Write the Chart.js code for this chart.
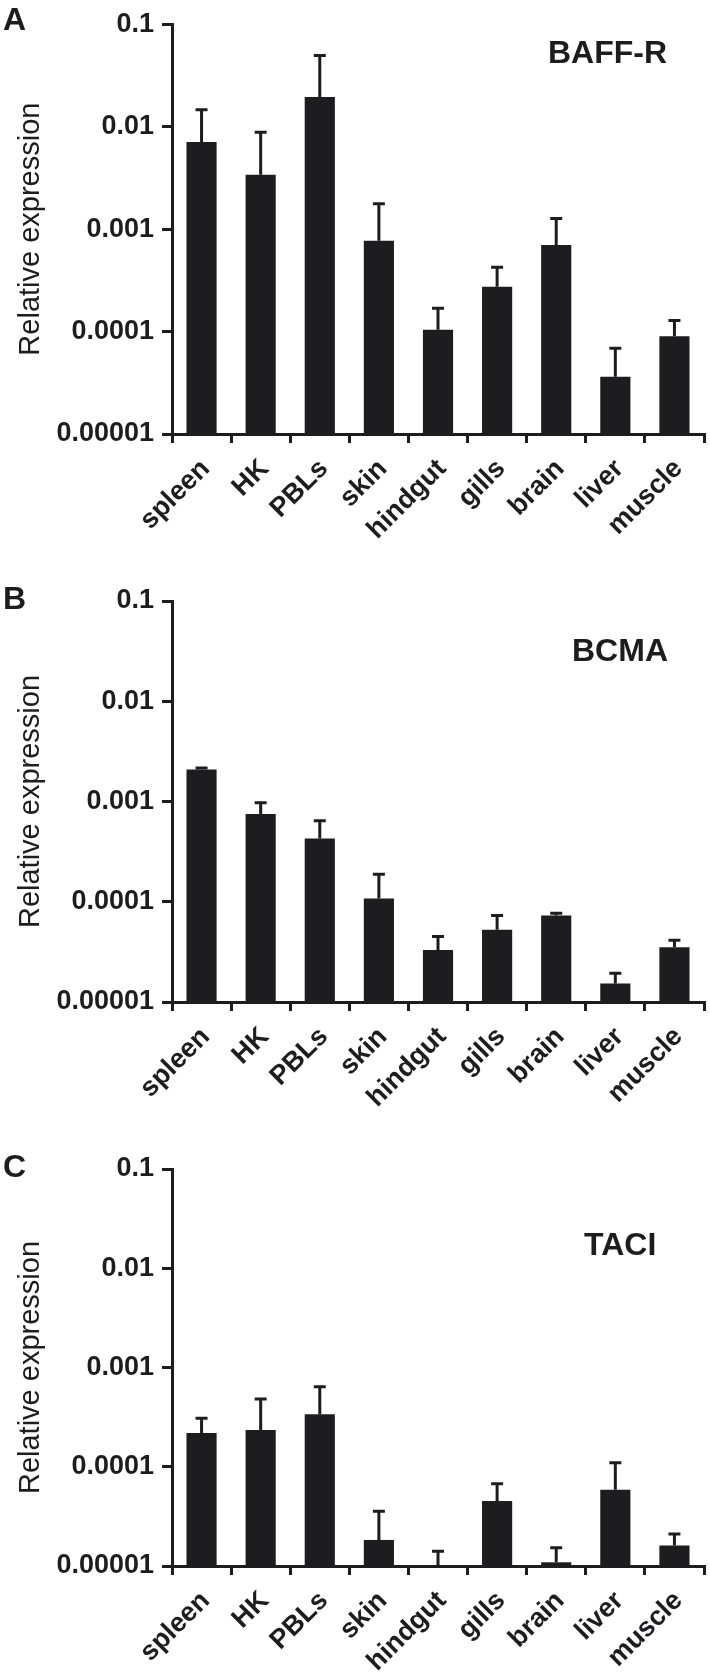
<!DOCTYPE html>
<html>
<head>
<meta charset="utf-8">
<script src="https://cdn.jsdelivr.net/npm/chart.js@4.4.1/dist/chart.umd.min.js"></script>
<style>
    body { margin: 0; background: #fff; width: 710px; height: 1678px; position: relative; overflow: hidden;
           font-family: "Liberation Sans", Arial, Helvetica, sans-serif; color: #1d1d1f; }
    .panel { position: absolute; left: 0; width: 710px; }
    .panel canvas { display: block; }
    .letter, .gene { position: absolute; font-weight: bold; font-size: 32px; line-height: 32px; white-space: nowrap; }
</style>
</head>
<body>

<div class="panel" id="panel-a" style="top:0px;"><canvas id="chart-a" width="710" height="560"></canvas></div>
<div class="panel" id="panel-b" style="top:565px;"><canvas id="chart-b" width="710" height="565"></canvas></div>
<div class="panel" id="panel-c" style="top:1135px;"><canvas id="chart-c" width="710" height="543"></canvas></div>

<div class="letter" style="left:3px; top:3px;">A</div>
<div class="letter" style="left:3px; top:582px;">B</div>
<div class="letter" style="left:3px; top:1150px;">C</div>

<div class="gene" style="left:548px; top:36px;">BAFF-R</div>
<div class="gene" style="left:572px; top:634px;">BCMA</div>
<div class="gene" style="left:584px; top:1228px;">TACI</div>

<script>
// Tissues and y ticks
const tissues = ['spleen', 'HK', 'PBLs', 'skin', 'hindgut', 'gills', 'brain', 'liver', 'muscle'];
const yTickValues = [0.00001, 0.0001, 0.001, 0.01, 0.1];
const yTickLabels = ['0.00001', '0.0001', '0.001', '0.01', '0.1'];

// BAFF-R: mean and upper error (SD)
const baffrMean = [0.0071, 0.0034, 0.0195, 0.00077, 0.000104, 0.000274, 0.0007, 0.0000362, 0.0000902];
const baffrErr  = [0.0075, 0.0054, 0.030, 0.0010, 0.000065, 0.00015, 0.00057, 0.0000324, 0.0000378];

// BCMA
const bcmaMean = [0.00208, 0.00075, 0.000428, 0.000108, 0.000033, 0.0000527, 0.000073, 0.0000153, 0.0000351];
const bcmaErr  = [0.00008, 0.00022, 0.000216, 0.00008, 0.0000119, 0.0000203, 0.0000039, 0.0000041, 0.0000061];

// TACI
const taciMean = [0.000219, 0.000235, 0.000339, 0.0000183, 0.00001, 0.0000453, 0.0000109, 0.0000585, 0.0000161];
const taciErr  = [0.000089, 0.000246, 0.000302, 0.0000174, 0.0000041, 0.0000222, 0.0000044, 0.0000515, 0.0000049];

const INK = '#1d1d1f';
const FONT = '"Liberation Sans", Arial, Helvetica, sans-serif';
let panelCharts = {};

// one-sided error bars drawn on top of each bar
const errorBarPlugin = {
    id: 'errorBars',
    afterDatasetsDraw(chart) {
        const ctx = chart.ctx;
        const yScale = chart.scales.y;
        const ds = chart.data.datasets[0];
        const meta = chart.getDatasetMeta(0);
        ctx.save();
        ctx.strokeStyle = INK;
        ctx.lineWidth = 3;
        meta.data.forEach((bar, i) => {
            const base = yScale.getPixelForValue(Math.max(ds.data[i], yScale.min));
            const top = yScale.getPixelForValue(ds.data[i] + ds.errors[i]);
            ctx.beginPath();
            ctx.moveTo(bar.x, base);
            ctx.lineTo(bar.x, top);
            ctx.moveTo(bar.x - 6, top);
            ctx.lineTo(bar.x + 6, top);
            ctx.stroke();
        });
        ctx.restore();
    }
};

function renderPanel(canvasId, means, errors, padTop, areaBottom) {
    const canvas = document.getElementById(canvasId);
    const height = canvas.height;

    panelCharts[canvasId] = new Chart(canvas, {
        type: 'bar',
        data: {
            labels: tissues,
            datasets: [{
                data: means,
                errors: errors,
                backgroundColor: INK,
                borderWidth: 0,
                categoryPercentage: 1,
                barPercentage: 0.51
            }]
        },
        options: {
            responsive: false,
            animation: false,
            devicePixelRatio: 1,
            layout: { padding: { top: padTop, right: 6, left: 0, bottom: 0 } },
            plugins: { legend: { display: false }, tooltip: { enabled: false } },
            scales: {
                x: {
                    grid: { display: true, drawOnChartArea: false, offset: true, color: INK, lineWidth: 3, tickLength: 9 },
                    border: { display: true, color: INK, width: 3 },
                    ticks: {
                        color: INK, autoSkip: false, maxRotation: 45, minRotation: 45, padding: 10, labelOffset: 4,
                        font: { family: FONT, size: 27, weight: 'bold' }
                    },
                    afterFit: (scale) => { scale.height = height - areaBottom; }
                },
                y: {
                    type: 'logarithmic',
                    min: 0.00001,
                    max: 0.1,
                    afterBuildTicks: (axis) => { axis.ticks = yTickValues.map(v => ({ value: v })); },
                    grid: { display: true, drawOnChartArea: false, color: INK, lineWidth: 3, tickLength: 10 },
                    border: { display: true, color: INK, width: 3 },
                    ticks: {
                        color: INK, padding: 8,
                        font: { family: FONT, size: 27, weight: 'bold' },
                        callback: (value) => yTickLabels[yTickValues.indexOf(value)]
                    },
                    title: {
                        display: true, text: 'Relative expression', color: INK,
                        font: { family: FONT, size: 29, weight: 'normal' },
                        padding: { top: 14, bottom: 0 }
                    },
                    afterFit: (scale) => { scale.width = 172; }
                }
            }
        },
        plugins: [errorBarPlugin]
    });
}

renderPanel('chart-a', baffrMean, baffrErr, 19, 434);
renderPanel('chart-b', bcmaMean, bcmaErr, 36, 1002 - 565);
renderPanel('chart-c', taciMean, taciErr, 34, 1566 - 1135);
</script>
</body>
</html>
